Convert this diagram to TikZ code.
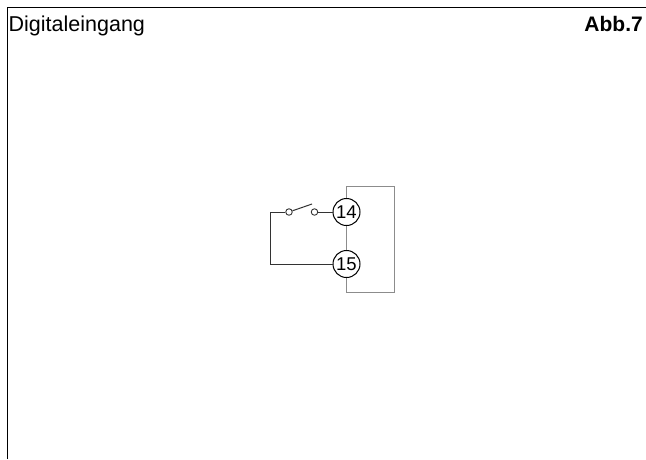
\documentclass[tikz,border=0pt]{standalone}
\usepackage{fontspec}
\setmainfont{Liberation Sans}
\tikzset{
  frameline/.style={draw=black,line width=1.4pt},
  wire/.style={draw=black!80,line width=1pt},
  boxline/.style={draw=black!45,line width=0.9pt},
  terminal/.style={circle,draw=black,line width=1pt,fill=white,minimum size=27pt,inner sep=0pt,font=\fontsize{18.5}{18.5}\selectfont},
  contact/.style={circle,draw=black!80,line width=0.9pt,fill=white,minimum size=6.5pt,inner sep=0pt},
  titletext/.style={inner sep=0pt,font=\fontsize{21.5}{21.5}\selectfont},
  figtext/.style={inner sep=0pt,font=\fontsize{21}{21}\selectfont\bfseries}
}
\begin{document}
\begin{tikzpicture}[x=1pt,y=-1pt]
\useasboundingbox (0,0) rectangle (646,459);
\fill[white] (0,0) rectangle (646,459);
\draw[frameline] (7.5,459) -- (7.5,7.5) -- (646,7.5);
\node[titletext,anchor=base west] (title) at (8.5,31) {Digitaleingang};
\node[figtext,anchor=base east] (fig) at (643,31) {Abb.7};
\draw[boxline] (346,186) -- (394,186) -- (394,292.5) -- (346,292.5) -- cycle;
\coordinate (corner1) at (270,212);
\coordinate (corner2) at (270,264);
\node[terminal] (t14) at (346.5,212) {14};
\node[terminal] (t15) at (346.5,264) {15};
\node[contact] (c1) at (289,212) {};
\node[contact] (c2) at (314.5,212) {};
\coordinate (leverend) at (312,204);
\draw[wire] (c1) -- (corner1) -- (corner2) -- (t15);
\draw[wire] (c2) -- (t14);
\draw[wire] (c1) -- (leverend);
\end{tikzpicture}
\end{document}
